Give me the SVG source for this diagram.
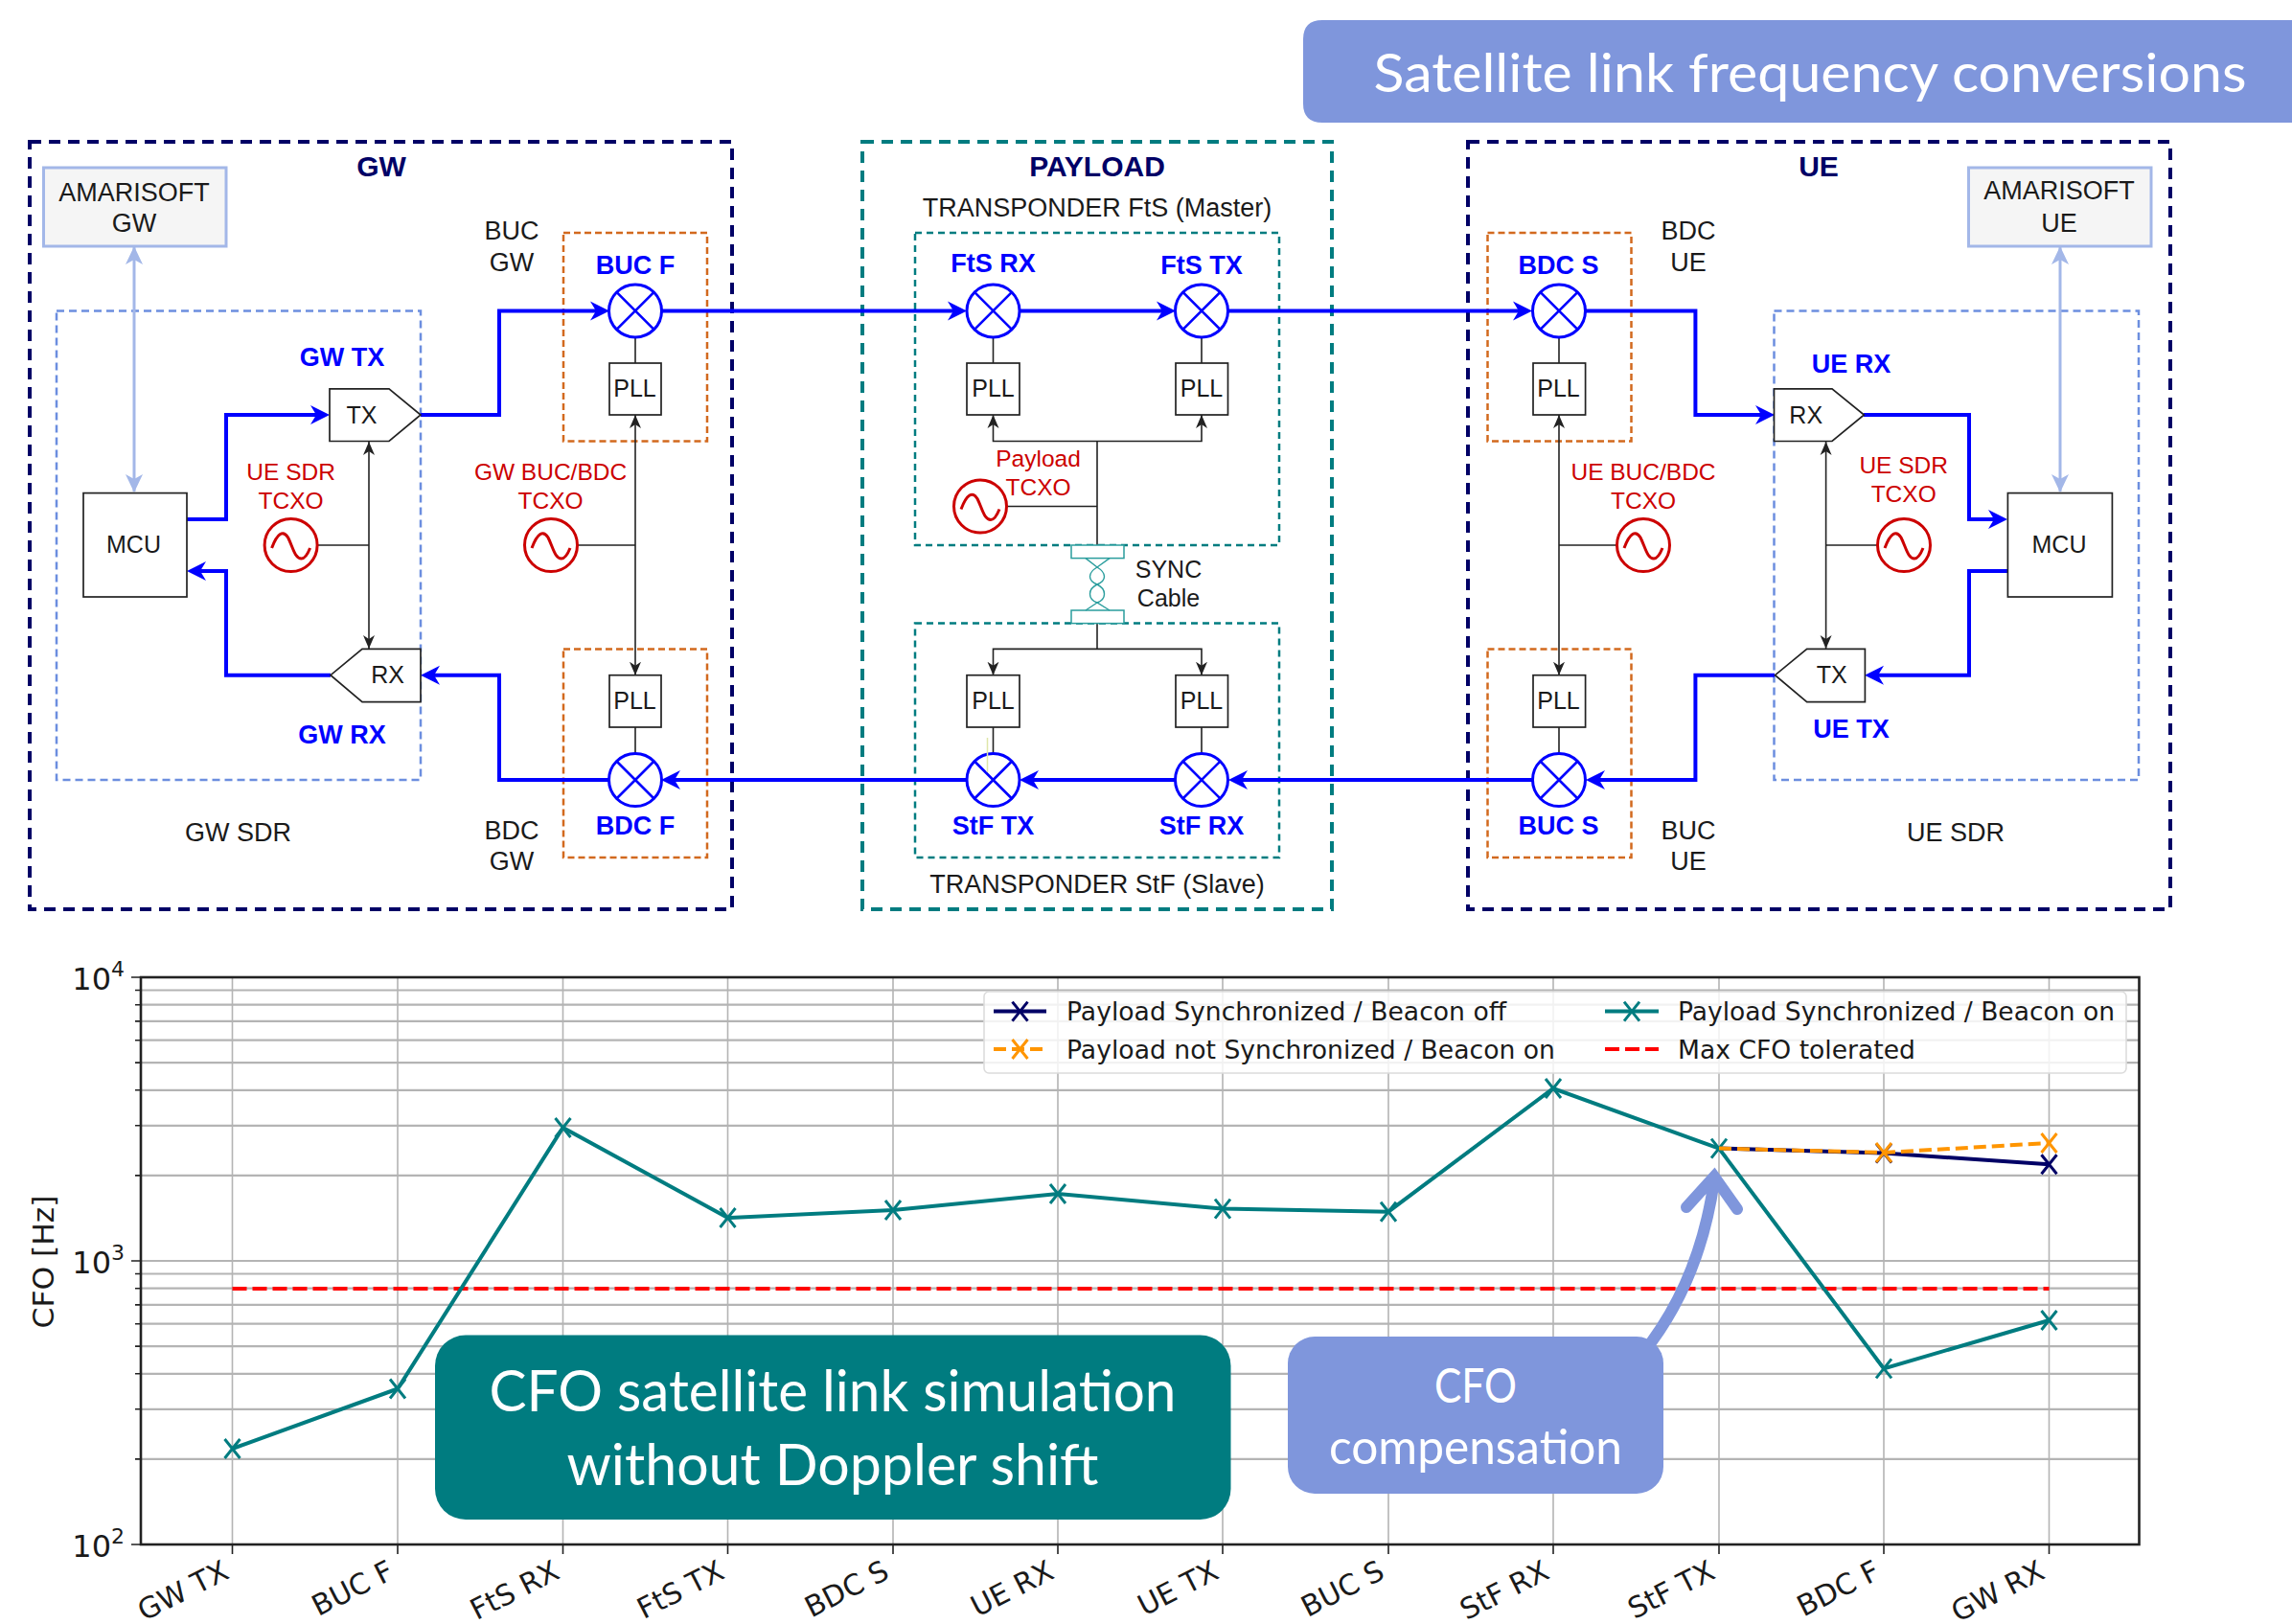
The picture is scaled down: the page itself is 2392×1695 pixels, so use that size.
<svg xmlns="http://www.w3.org/2000/svg" width="2392" height="1695" viewBox="0 0 2392 1695">
<style>
text{font-family:"Liberation Sans",Arial,sans-serif;text-anchor:middle;dominant-baseline:central;fill:#1a1a1a}
.n{font-size:25px}.k{font-size:27px}.r{font-size:24.5px;fill:#cc0000}.b{font-size:27px;font-weight:bold;fill:#0000ff}.h{font-size:30px;font-weight:bold;fill:#000066}
.d{font-family:"DejaVu Sans",sans-serif}.l{font-family:"DejaVu Sans",sans-serif;font-size:27px;text-anchor:start}.t{font-family:"DejaVu Sans",sans-serif;font-size:30px;text-anchor:end}
.y{font-family:"DejaVu Sans",sans-serif;font-size:32px;text-anchor:end}
.c{font-family:Lato,"Open Sans",sans-serif;fill:#fff}
.box{fill:#fff;stroke:#222;stroke-width:1.7}
.sdr{fill:none;stroke:#6c8edf;stroke-width:2.5;stroke-dasharray:8 5}
.org{fill:none;stroke:#d2691e;stroke-width:2.5;stroke-dasharray:7 4}
.out{fill:none;stroke-width:4;stroke-dasharray:12 8}
.tin{fill:none;stroke:#007c80;stroke-width:2.5;stroke-dasharray:7 5}
.sig{fill:none;stroke:#0000ff;stroke-width:4}
.clk{fill:none;stroke:#222;stroke-width:1.6}
.ctl{fill:none;stroke:#a3b7e8;stroke-width:3}
.wire{fill:none;stroke:#222;stroke-width:1.6}
.pl{fill:none;stroke-width:4}
</style>
<defs>
<marker id="ab" markerUnits="userSpaceOnUse" markerWidth="22" markerHeight="22" refX="14" refY="11" orient="auto"><path d="M0,1 L20,11 L0,21 L6,11 Z" fill="#0000ff"/></marker>
<marker id="ak" markerUnits="userSpaceOnUse" markerWidth="15" markerHeight="14" refX="14" refY="7" orient="auto-start-reverse"><path d="M0,1 L14,7 L0,13 L4,7 Z" fill="#222"/></marker>
<marker id="ac" markerUnits="userSpaceOnUse" markerWidth="20" markerHeight="20" refX="18" refY="10" orient="auto-start-reverse"><path d="M0,1 L19,10 L0,19 L5,10 Z" fill="#a3b7e8"/></marker>
<marker id="xT" markerUnits="userSpaceOnUse" markerWidth="22" markerHeight="24" refX="11" refY="12"><path d="M3,2 L19,22 M19,2 L3,22" stroke="#007c80" stroke-width="3" fill="none"/></marker>
<marker id="xN" markerUnits="userSpaceOnUse" markerWidth="22" markerHeight="24" refX="11" refY="12"><path d="M3,2 L19,22 M19,2 L3,22" stroke="#000066" stroke-width="3" fill="none"/></marker>
<marker id="xO" markerUnits="userSpaceOnUse" markerWidth="22" markerHeight="24" refX="11" refY="12"><path d="M3,2 L19,22 M19,2 L3,22" stroke="#ff9500" stroke-width="3" fill="none"/></marker>
<g id="mix"><circle r="27.5" fill="#fff" stroke="#0000ff" stroke-width="3"/><path d="M-19.5,-19.5 L19.5,19.5 M19.5,-19.5 L-19.5,19.5" stroke="#0000ff" stroke-width="2.6" fill="none"/></g>
<g id="osc"><circle r="27.5" fill="#fff" stroke="#cc0000" stroke-width="3"/><path d="M-20,3 C-14,-13 -8,-16 -3,-8 C2,2 4,14 11,14 C15,14 18,8 20,3" fill="none" stroke="#cc0000" stroke-width="3"/></g>
</defs>
<rect width="2392" height="1695" fill="#fff"/>

<g id="group-boxes">
<rect class="out" x="31" y="148" width="733" height="801" stroke="#000066"/>
<rect class="sdr" x="59" y="324.5" width="380" height="489.5"/>
<rect class="org" x="588" y="243" width="150" height="217.5"/>
<rect class="org" x="588" y="677.5" width="150" height="217.5"/>
<rect class="out" x="900" y="148" width="490" height="801" stroke="#007c80"/>
<rect class="tin" x="955" y="243" width="380" height="326"/>
<rect class="tin" x="955" y="650.5" width="380" height="244.5"/>
<rect class="out" x="1532" y="148" width="733" height="801" stroke="#000066"/>
<rect class="org" x="1552.5" y="243" width="150" height="217.5"/>
<rect class="org" x="1552.5" y="677.5" width="150" height="217.5"/>
<rect class="sdr" x="1851.5" y="324.5" width="380.5" height="489.5"/>
</g>

<g id="connectors">
<path class="ctl" d="M140,258 V513" marker-start="url(#ac)" marker-end="url(#ac)"/>
<path class="ctl" d="M2150,258 V513" marker-start="url(#ac)" marker-end="url(#ac)"/>
<path class="sig" d="M195,542 H236 V433 H338" marker-end="url(#ab)"/>
<path class="sig" d="M345,704.7 H236 V596 H201" marker-end="url(#ab)"/>
<path class="sig" d="M439,433 H521 V324.4 H630" marker-end="url(#ab)"/>
<path class="sig" d="M636,814 H521 V704.7 H445" marker-end="url(#ab)"/>
<path class="sig" d="M690,324.4 H1003" marker-end="url(#ab)"/>
<path class="sig" d="M1064,324.4 H1221" marker-end="url(#ab)"/>
<path class="sig" d="M1281,324.4 H1593" marker-end="url(#ab)"/>
<path class="sig" d="M1654,324.4 H1769.4 V433 H1846" marker-end="url(#ab)"/>
<path class="sig" d="M1945,433 H2055 V542 H2089" marker-end="url(#ab)"/>
<path class="sig" d="M2095,596 H2055 V704.7 H1952" marker-end="url(#ab)"/>
<path class="sig" d="M1852,704.7 H1769.4 V814 H1661" marker-end="url(#ab)"/>
<path class="sig" d="M1600,814 H1288" marker-end="url(#ab)"/>
<path class="sig" d="M1227,814 H1070" marker-end="url(#ab)"/>
<path class="sig" d="M1009,814 H696" marker-end="url(#ab)"/>
<path class="clk" d="M385,461 V677" marker-start="url(#ak)" marker-end="url(#ak)"/>
<path class="wire" d="M331,569 H385"/>
<path class="clk" d="M663,433 V704.7" marker-start="url(#ak)" marker-end="url(#ak)"/>
<path class="wire" d="M603,569 H663"/>
<path class="wire" d="M663,379 V351 M663,759 V787"/>
<path class="wire" d="M1036.5,379 V351 M1254,379 V351 M1036.5,759 V787 M1254,759 V787"/>
<path class="clk" d="M1036.5,433 V460.5 H1254 V433" marker-start="url(#ak)" marker-end="url(#ak)"/>
<path class="wire" d="M1145,460.5 V569 M1050,528.5 H1145"/>
<path class="wire" d="M1145,650.5 V677.4"/>
<path class="clk" d="M1036.5,704.7 V677.4 H1254 V704.7" marker-start="url(#ak)" marker-end="url(#ak)"/>
<path class="clk" d="M1905.6,461 V677" marker-start="url(#ak)" marker-end="url(#ak)"/>
<path class="wire" d="M1905.6,569 H1959"/>
<path class="clk" d="M1627,433 V704.7" marker-start="url(#ak)" marker-end="url(#ak)"/>
<path class="wire" d="M1627,569 H1688"/>
<path class="wire" d="M1627,379 V351 M1627,759 V787"/>
</g>

<g id="amarisoft-gw"><rect x="45.5" y="175" width="190.5" height="82" fill="#f5f5f5" stroke="#a3b7e8" stroke-width="3"/><text x="140" y="201" style="font-size:27px">AMARISOFT</text><text x="140" y="233" style="font-size:27px">GW</text></g>
<g id="amarisoft-ue"><rect x="2054.5" y="175" width="190.5" height="82" fill="#f5f5f5" stroke="#a3b7e8" stroke-width="3"/><text x="2149" y="199" style="font-size:27px">AMARISOFT</text><text x="2149" y="233" style="font-size:27px">UE</text></g>
<g id="mcu-gw"><rect class="box" x="87" y="514.6" width="108" height="108.4"/><text class="n" x="139.5" y="568">MCU</text></g>
<g id="mcu-ue"><rect class="box" x="2095.4" y="514.6" width="109" height="108.4"/><text class="n" x="2149" y="568">MCU</text></g>
<g id="gw-tx"><path class="box" d="M344,405.8 H406 L439,433 L406,460.5 H344 Z"/><text class="n" x="377.5" y="432.5">TX</text></g>
<g id="gw-rx"><path class="box" d="M439,677.4 H378 L345,704.7 L378,732.6 H439 Z"/><text class="n" x="404.5" y="704">RX</text></g>
<g id="ue-rx"><path class="box" d="M1851.5,405.8 H1912 L1945.4,433 L1912,460.5 H1851.5 Z"/><text class="n" x="1884.7" y="432.5">RX</text></g>
<g id="ue-tx"><path class="box" d="M1946.4,677.4 H1885.7 L1852.5,704.7 L1885.7,732.6 H1946.4 Z"/><text class="n" x="1911.7" y="704">TX</text></g>

<g id="buc-f"><use href="#mix" x="663" y="324.4"/><rect class="box" x="636" y="379" width="54" height="54"/><text class="n" x="662.5" y="405">PLL</text></g>
<g id="bdc-f"><use href="#mix" x="663" y="814"/><rect class="box" x="636" y="704.7" width="54" height="54.3"/><text class="n" x="662.5" y="731">PLL</text></g>
<g id="fts-rx"><use href="#mix" x="1036.5" y="324.4"/><rect class="box" x="1009" y="379" width="55" height="54"/><text class="n" x="1036.5" y="405">PLL</text></g>
<g id="fts-tx"><use href="#mix" x="1254" y="324.4"/><rect class="box" x="1227" y="379" width="54.5" height="54"/><text class="n" x="1254" y="405">PLL</text></g>
<g id="stf-tx"><use href="#mix" x="1036.5" y="814"/><rect class="box" x="1009" y="704.7" width="55" height="54.3"/><text class="n" x="1036.5" y="731">PLL</text><path d="M1030.5,770 V806" stroke="#dfe6a8" stroke-width="1.5" fill="none"/></g>
<g id="stf-rx"><use href="#mix" x="1254" y="814"/><rect class="box" x="1227" y="704.7" width="54.5" height="54.3"/><text class="n" x="1254" y="731">PLL</text></g>
<g id="bdc-s"><use href="#mix" x="1627" y="324.4"/><rect class="box" x="1600" y="379" width="54.6" height="54"/><text class="n" x="1626.5" y="405">PLL</text></g>
<g id="buc-s"><use href="#mix" x="1627" y="814"/><rect class="box" x="1600" y="704.7" width="54.6" height="54.3"/><text class="n" x="1626.5" y="731">PLL</text></g>

<g id="osc-gw-sdr"><use href="#osc" x="303.6" y="569"/></g>
<g id="osc-gw-bucbdc"><use href="#osc" x="575" y="569"/></g>
<g id="osc-payload"><use href="#osc" x="1023" y="528.5"/></g>
<g id="osc-ue-bucbdc"><use href="#osc" x="1715" y="569"/></g>
<g id="osc-ue-sdr"><use href="#osc" x="1987" y="569"/></g>

<g id="sync-cable">
<rect x="1118" y="569" width="55" height="13.6" fill="#fff" stroke="#2a9d9d" stroke-width="1.5"/>
<rect x="1118" y="637" width="55" height="13.6" fill="#fff" stroke="#2a9d9d" stroke-width="1.5"/>
<path d="M1133,582.6 L1145,592 C1155,598 1155,606 1145,610 C1135,615 1135,625 1145,629 L1158,637" fill="none" stroke="#2a9d9d" stroke-width="1.4"/>
<path d="M1158,582.6 L1145,592 C1135,598 1135,606 1145,610 C1155,615 1155,625 1145,629 L1133,637" fill="none" stroke="#2a9d9d" stroke-width="1.4"/>
</g>

<g id="labels">
<text class="h" x="398" y="173">GW</text><text class="h" x="1145" y="173">PAYLOAD</text><text class="h" x="1898" y="173">UE</text>
<text x="1145" y="217" style="font-size:27px">TRANSPONDER FtS (Master)</text>
<text x="1145" y="923" style="font-size:27px">TRANSPONDER StF (Slave)</text>
<text class="k" x="534" y="241">BUC</text><text class="k" x="534" y="273.5">GW</text>
<text class="k" x="534" y="866.5">BDC</text><text class="k" x="534" y="898.5">GW</text>
<text class="k" x="1762" y="241">BDC</text><text class="k" x="1762" y="273.5">UE</text>
<text class="k" x="1762" y="866.5">BUC</text><text class="k" x="1762" y="898.5">UE</text>
<text class="k" x="248.5" y="869">GW SDR</text><text class="k" x="2041" y="869">UE SDR</text>
<text class="b" x="663" y="277">BUC F</text><text class="b" x="663" y="861.5">BDC F</text>
<text class="b" x="1036.5" y="275">FtS RX</text><text class="b" x="1254" y="277">FtS TX</text>
<text class="b" x="1036.5" y="861.5">StF TX</text><text class="b" x="1254" y="861.5">StF RX</text>
<text class="b" x="1626.5" y="277">BDC S</text><text class="b" x="1626.5" y="861.5">BUC S</text>
<text class="b" x="357" y="372.5">GW TX</text><text class="b" x="357" y="767">GW RX</text>
<text class="b" x="1932" y="379.5">UE RX</text><text class="b" x="1932" y="760.5">UE TX</text>
<text class="r" x="303.6" y="492.5">UE SDR</text><text class="r" x="303.6" y="522">TCXO</text>
<text class="r" x="574.5" y="492.5">GW BUC/BDC</text><text class="r" x="574.5" y="522">TCXO</text>
<text class="r" x="1083.5" y="478.5">Payload</text><text class="r" x="1083.5" y="508.5">TCXO</text>
<text class="r" x="1715" y="492.5">UE BUC/BDC</text><text class="r" x="1715" y="522">TCXO</text>
<text class="r" x="1986.7" y="485">UE SDR</text><text class="r" x="1986.7" y="515">TCXO</text>
<text class="n" x="1219.5" y="594">SYNC</text><text class="n" x="1219.5" y="624">Cable</text>
</g>

<g id="title-banner"><path d="M2392,21 H1380 Q1360,21 1360,41 V108 Q1360,128 1380,128 H2392 Z" fill="#7f96dc"/><text class="c" x="1889" y="74" style="font-size:57px" textLength="911" lengthAdjust="spacingAndGlyphs">Satellite link frequency conversions</text></g>

<g id="chart">
<path d="M147,1522.9H2232 M147,1470.8H2232 M147,1433.8H2232 M147,1405.1H2232 M147,1381.7H2232 M147,1361.9H2232 M147,1344.7H2232 M147,1329.5H2232 M147,1316H2232 M147,1226.9H2232 M147,1174.8H2232 M147,1137.8H2232 M147,1109.1H2232 M147,1085.7H2232 M147,1065.9H2232 M147,1048.7H2232 M147,1033.5H2232" stroke="#b4b4b4" stroke-width="2.2" fill="none"/>
<path d="M242.5,1020V1612 M415,1020V1612 M587.5,1020V1612 M759.5,1020V1612 M932,1020V1612 M1104,1020V1612 M1276,1020V1612 M1449,1020V1612 M1621,1020V1612 M1794,1020V1612 M1966,1020V1612 M2138.5,1020V1612" stroke="#b4b4b4" stroke-width="1.6" fill="none"/>
<rect x="147" y="1020" width="2085.5" height="592" fill="none" stroke="#222" stroke-width="2.6"/>
<path d="M242.5,1612v10 M415,1612v10 M587.5,1612v10 M759.5,1612v10 M932,1612v10 M1104,1612v10 M1276,1612v10 M1449,1612v10 M1621,1612v10 M1794,1612v10 M1966,1612v10 M2138.5,1612v10 M137,1612h10 M137,1316h10 M137,1020h10 M141,1522.9h6 M141,1470.8h6 M141,1433.8h6 M141,1405.1h6 M141,1381.7h6 M141,1361.9h6 M141,1344.7h6 M141,1329.5h6 M141,1226.9h6 M141,1174.8h6 M141,1137.8h6 M141,1109.1h6 M141,1085.7h6 M141,1065.9h6 M141,1048.7h6 M141,1033.5h6" stroke="#222" stroke-width="1.6" fill="none"/>
<path d="M242.5,1345H2138.5" stroke="#ff0000" stroke-width="4" stroke-dasharray="15 6" fill="none"/>
<polyline class="pl" stroke="#000066" points="1794,1198.6 1966,1203.6 2138.5,1215.3" marker-mid="url(#xN)" marker-end="url(#xN)"/>
<polyline class="pl" stroke="#007c80" points="242.5,1512 415,1449.5 587.5,1177 759.5,1271 932,1263 1104,1246 1276,1261.6 1449,1264.7 1621,1136 1794,1198.6 1966,1428.4 2138.5,1378" marker-start="url(#xT)" marker-mid="url(#xT)" marker-end="url(#xT)"/>
<polyline class="pl" stroke="#ff9500" stroke-dasharray="13 6" points="1794,1198.6 1966,1203 2138.5,1193" marker-mid="url(#xO)" marker-end="url(#xO)"/>
<g id="legend">
<rect x="1027" y="1035" width="1192" height="85" rx="5" fill="#fff" fill-opacity=".82" stroke="#dcdcdc" stroke-width="1.6"/>
<path d="M1037,1055.6H1064.5 H1092" class="pl" stroke="#000066" marker-mid="url(#xN)"/>
<path d="M1037,1095H1064.5 H1092" class="pl" stroke="#ff9500" stroke-dasharray="13 6" marker-mid="url(#xO)"/>
<path d="M1675,1055.6H1703 H1731" class="pl" stroke="#007c80" marker-mid="url(#xT)"/>
<path d="M1675,1095H1731" stroke="#ff0000" stroke-width="4" stroke-dasharray="15 6" fill="none"/>
<text class="l" x="1113" y="1055" textLength="459" lengthAdjust="spacingAndGlyphs">Payload Synchronized / Beacon off</text>
<text class="l" x="1113" y="1095" textLength="510" lengthAdjust="spacingAndGlyphs">Payload not Synchronized / Beacon on</text>
<text class="l" x="1751" y="1055" textLength="456" lengthAdjust="spacingAndGlyphs">Payload Synchronized / Beacon on</text>
<text class="l" x="1751" y="1095" textLength="248" lengthAdjust="spacingAndGlyphs">Max CFO tolerated</text>
</g>
<text class="y" x="130" y="1022">10<tspan dy="-11" style="font-size:22px">4</tspan></text>
<text class="y" x="130" y="1318">10<tspan dy="-11" style="font-size:22px">3</tspan></text>
<text class="y" x="130" y="1614">10<tspan dy="-11" style="font-size:22px">2</tspan></text>
<text class="d" transform="translate(45,1317) rotate(-90)" style="font-size:30px" textLength="139" lengthAdjust="spacingAndGlyphs">CFO [Hz]</text>
<text class="t" transform="translate(236,1637) rotate(-27)">GW TX</text>
<text class="t" transform="translate(408,1637) rotate(-27)">BUC F</text>
<text class="t" transform="translate(581,1637) rotate(-27)">FtS RX</text>
<text class="t" transform="translate(753,1637) rotate(-27)">FtS TX</text>
<text class="t" transform="translate(925,1637) rotate(-27)">BDC S</text>
<text class="t" transform="translate(1097,1637) rotate(-27)">UE RX</text>
<text class="t" transform="translate(1269,1637) rotate(-27)">UE TX</text>
<text class="t" transform="translate(1442,1637) rotate(-27)">BUC S</text>
<text class="t" transform="translate(1614,1637) rotate(-27)">StF RX</text>
<text class="t" transform="translate(1787,1637) rotate(-27)">StF TX</text>
<text class="t" transform="translate(1959,1637) rotate(-27)">BDC F</text>
<text class="t" transform="translate(2131,1637) rotate(-27)">GW RX</text>
</g>

<g id="callout-simulation"><rect x="454" y="1393.5" width="830.5" height="192.5" rx="32" fill="#007c80"/><text class="c" x="869" y="1450" style="font-size:60px" textLength="717" lengthAdjust="spacingAndGlyphs">CFO satellite link simulation</text><text class="c" x="869" y="1526.5" style="font-size:60px" textLength="555" lengthAdjust="spacingAndGlyphs">without Doppler shift</text></g>
<g id="callout-compensation"><path d="M1724,1400 Q1775,1330 1789,1232 M1760,1260 L1789,1228 L1813,1262" fill="none" stroke="#7f96dc" stroke-width="12" stroke-linecap="round" stroke-linejoin="miter"/><rect x="1344" y="1395" width="392" height="164" rx="28" fill="#7f96dc"/><text class="c" x="1540" y="1445" style="font-size:50px" textLength="86" lengthAdjust="spacingAndGlyphs">CFO</text><text class="c" x="1540" y="1509" style="font-size:50px" textLength="306" lengthAdjust="spacingAndGlyphs">compensation</text></g>
</svg>
